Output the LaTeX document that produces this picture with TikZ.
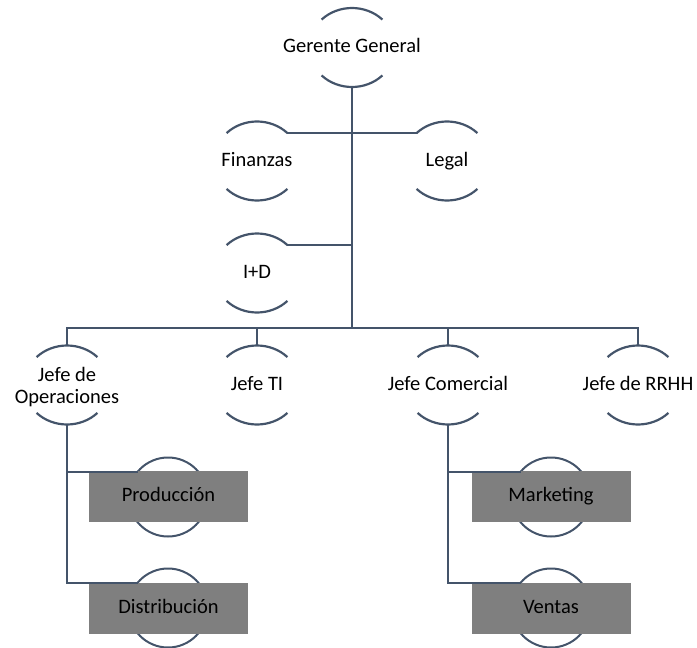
\documentclass[tikz,border=0pt]{standalone}
\usepackage{fontspec}
\setmainfont{Carlito}
\definecolor{ln}{HTML}{44546A}
\definecolor{boxgray}{HTML}{7F7F7F}
% arcs of the rings above and below each text
\newcommand\mkarcs[1]{%
  \coordinate (#1-tr) at ([shift={(45:43pt and 39.5pt)}]#1.center);
  \coordinate (#1-tl) at ([shift={(135:43pt and 39.5pt)}]#1.center);
  \coordinate (#1-br) at ([shift={(-45:43pt and 39.5pt)}]#1.center);
  \draw[arcline] (#1-tr) arc[start angle=45,end angle=135,x radius=43pt,y radius=39.5pt];
  \draw[arcline] (#1-br) arc[start angle=-45,end angle=-135,x radius=43pt,y radius=39.5pt];}
\begin{document}
\begin{tikzpicture}[x=1pt,y=1pt,
  circ/.style={circle, minimum size=79pt, inner sep=0pt, outer sep=0pt},
  txtbase/.style={font=\fontsize{20.5}{21.5}\selectfont, align=center, text=black, inner sep=0pt},
  txt/.style={txtbase, text height=14pt, text depth=4pt},
  arcline/.style={ln, line width=2.2pt},
  conn/.style={ln, line width=2.8pt},
  sub/.style={ln, line width=2pt},
  fullcirc/.style={circ, draw=ln, line width=2pt},
  boxst/.style={rectangle, fill=boxgray, minimum width=159pt, minimum height=51pt, inner sep=0pt, txt}]
\useasboundingbox (0,0) rectangle (697,-648);
% top levels
\node[circ, label={[txt]center:Gerente General}] (gg) at (352,-47.5) {};
\node[circ, label={[txt]center:Finanzas}] (fin) at (257,-161) {};
\node[circ, label={[txt]center:Legal}] (leg) at (447,-161) {};
\node[circ, label={[txt]center:I+D}] (id) at (257,-273) {};
\node[circ, label={[txtbase, yshift=-2pt]center:Jefe de\\Operaciones}] (jo) at (67,-385) {};
\node[circ, label={[txt]center:Jefe TI}] (jti) at (257,-385) {};
\node[circ, label={[txt]center:Jefe Comercial}] (jc) at (448,-385) {};
\node[circ, label={[txt]center:Jefe de RRHH}] (jr) at (638,-385) {};
\foreach \n in {gg,fin,leg,id,jo,jti,jc,jr}{\mkarcs{\n}}
\coordinate (bar) at (352,-328);
% connectors
\draw[conn] (gg.south) -- (bar);
\draw[conn] (fin-tr) -- (leg-tl);
\draw[conn] (id-tr) -- (id-tr -| gg.south);
\draw[conn] (jo.north) |- (bar) -| (jr.north);
\draw[conn] (jti.north) -- (jti.north |- bar);
\draw[conn] (jc.north) -- (jc.north |- bar);
% lower levels
\node[fullcirc] (prodc) at (168,-497) {};
\node[boxst] (prod) at (168.5,-496.5) {Producción};
\node[fullcirc] (distc) at (168,-608) {};
\node[boxst] (dist) at (168.5,-608) {Distribución};
\node[fullcirc] (mktc) at (551,-497) {};
\node[boxst] (mkt) at (551,-496.5) {Marketing};
\node[fullcirc] (venc) at (551,-608) {};
\node[boxst] (ven) at (551,-608) {Ventas};
\draw[sub] (jo.south) |- (distc.140);
\draw[sub] (jo.south |- prodc.140) -- (prodc.140);
\draw[sub] (jc.south) |- (venc.140);
\draw[sub] (jc.south |- mktc.140) -- (mktc.140);
\end{tikzpicture}
\end{document}
